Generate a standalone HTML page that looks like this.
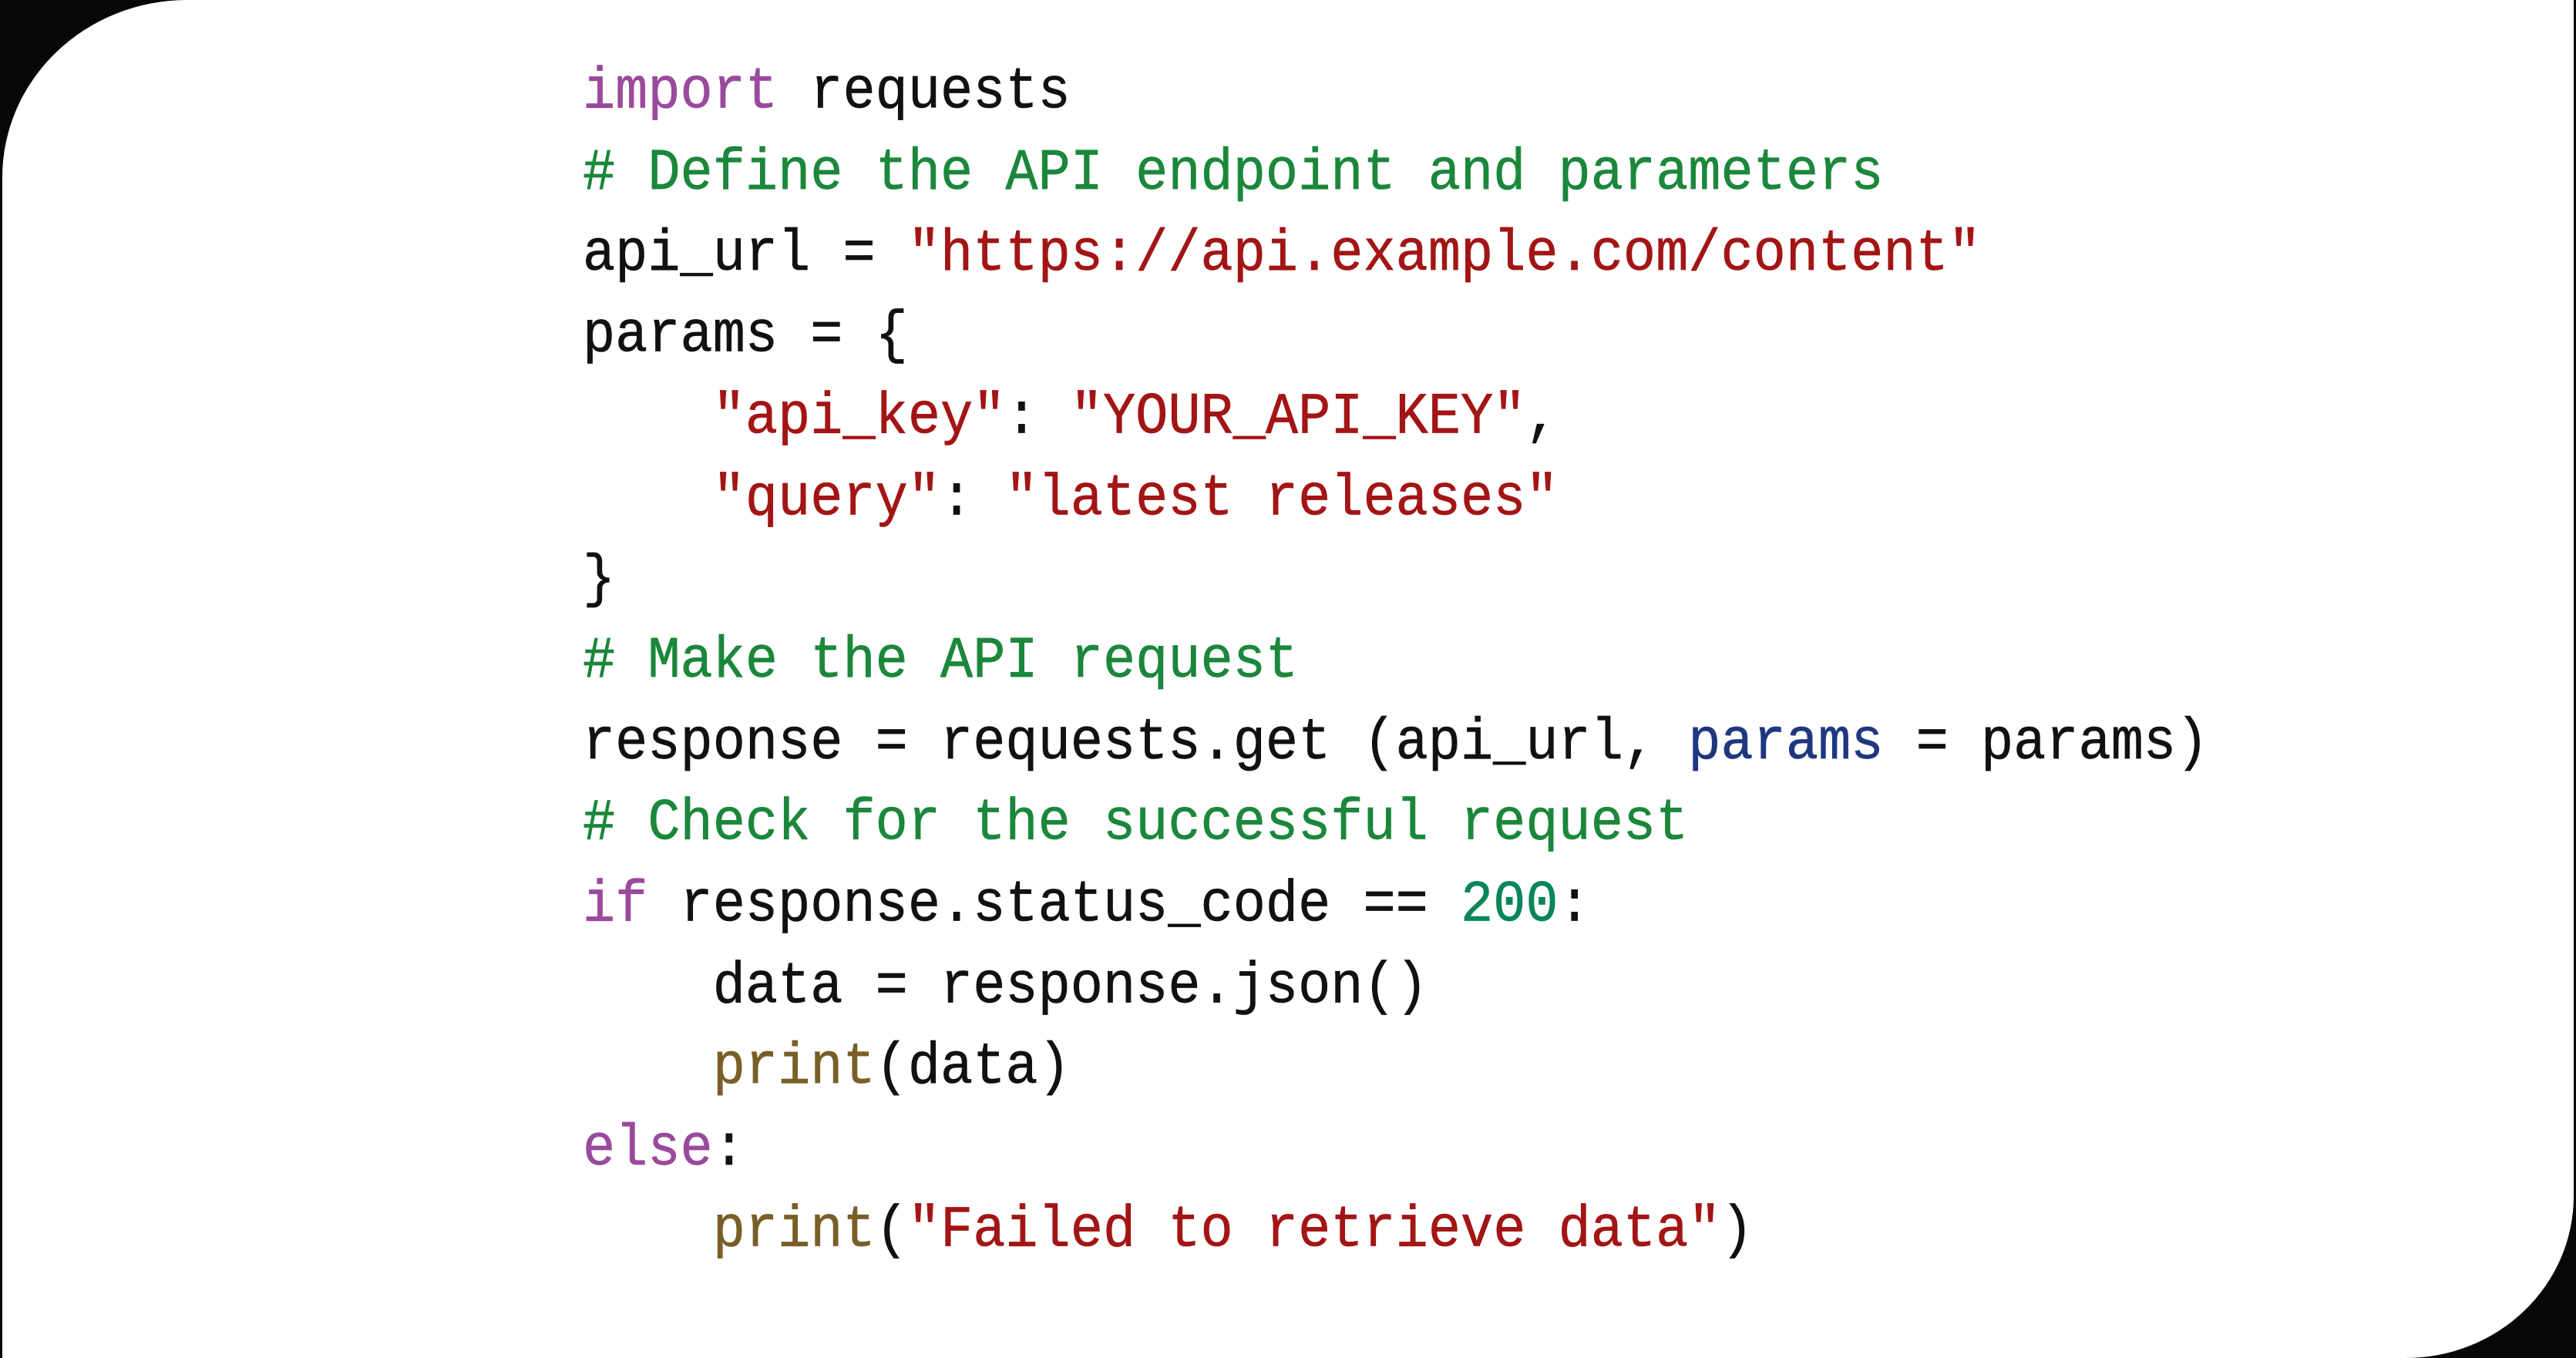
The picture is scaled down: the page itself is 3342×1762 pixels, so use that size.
<!DOCTYPE html>
<html>
<head>
<meta charset="utf-8">
<style>
  html,body{margin:0;padding:0;width:3342px;height:1762px;overflow:hidden;}
  body{background:#060708;position:relative;}
  .card{position:absolute;left:3px;top:0;width:3336px;height:1762px;background:#fff;
    border-top-left-radius:240px 230px;border-bottom-right-radius:218px 210px;}
  pre{position:absolute;left:756px;top:68px;margin:0;
    font-family:"Liberation Mono",monospace;font-size:70.3px;line-height:97.7px;color:#111;
    -webkit-text-stroke:0.6px currentColor;
    transform:scaleY(1.08);transform-origin:0 0;}
  .k{color:#9a4a9c}
  .c{color:#1b873b}
  .s{color:#a31515}
  .p{color:#1f377f}
  .n{color:#098658}
  .f{color:#795e26}
</style>
</head>
<body>
<div class="card"></div>
<pre><span class="k">import</span> requests
<span class="c"># Define the API endpoint and parameters</span>
api_url = <span class="s">"https://api.example.com/content"</span>
params = {
    <span class="s">"api_key"</span>: <span class="s">"YOUR_API_KEY"</span>,
    <span class="s">"query"</span>: <span class="s">"latest releases"</span>
}
<span class="c"># Make the API request</span>
response = requests.get (api_url, <span class="p">params</span> = params)
<span class="c"># Check for the successful request</span>
<span class="k">if</span> response.status_code == <span class="n">200</span>:
    data = response.json()
    <span class="f">print</span>(data)
<span class="k">else</span>:
    <span class="f">print</span>(<span class="s">"Failed to retrieve data"</span>)</pre>
</body>
</html>
